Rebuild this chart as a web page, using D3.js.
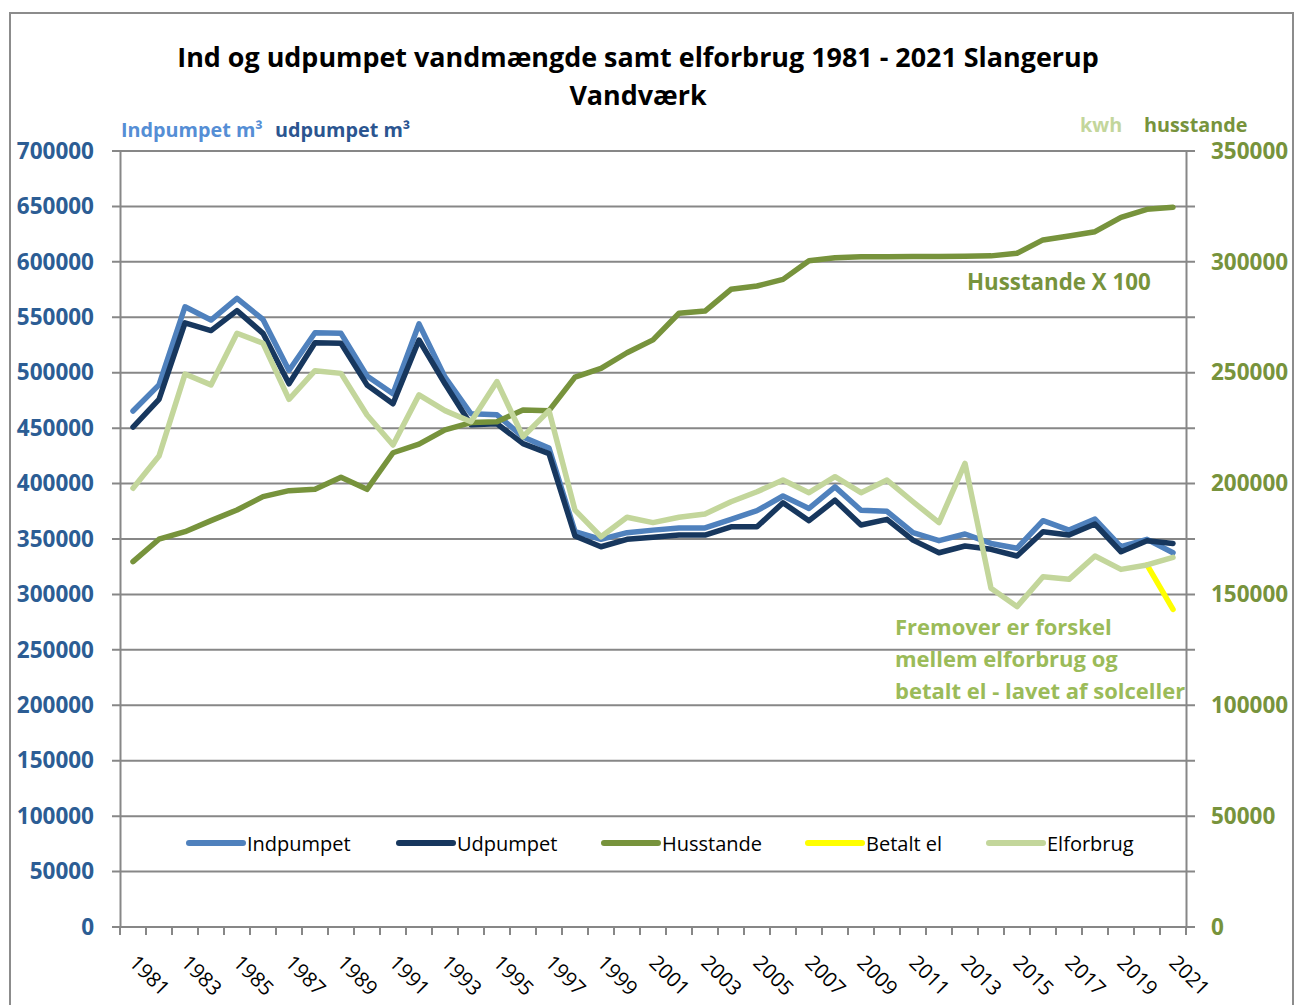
<!DOCTYPE html>
<html>
<head>
<meta charset="utf-8">
<script src="https://cdn.jsdelivr.net/npm/d3@7"></script>
<style>
  html, body { margin: 0; padding: 0; background: #fff; }
  svg { display: block; font-family: "Open Sans", "DejaVu Sans", sans-serif; }
</style>
</head>
<body>
<svg id="chart" width="1297" height="1005"></svg>
<script>
// ---------- data ----------
const years = d3.range(1981, 2022);
const yearLabels = d3.range(1981, 2022, 2);

const indpumpet = [465500, 489000, 559500, 547500, 567000, 548000, 502000, 536000, 535500, 497000,
  481000, 544000, 496000, 463000, 462000, 442000, 432000, 356600, 349700, 355700,
  358000, 360000, 360000, 367700, 375500, 388800, 377600, 397000, 376000, 375000,
  355700, 348500, 354500, 346000, 341600, 366500, 358000, 368000, 343000, 349700, 337600];

const udpumpet = [451000, 476000, 545000, 538000, 556000, 535500, 490000, 527000, 526500, 489000,
  472000, 529500, 490000, 453000, 454000, 436000, 427000, 352700, 343000, 349700,
  351500, 353600, 353600, 361000, 361000, 382700, 366500, 385000, 362600, 367700,
  349000, 337600, 343700, 340700, 334700, 356600, 353600, 363500, 338500, 348500, 346000];

const husstande = [164800, 174900, 178300, 183300, 188100, 194100, 196800, 197400, 202800, 197400,
  213900, 217800, 224200, 227500, 227900, 233200, 232900, 248000, 252000, 259000,
  264800, 276800, 277800, 287600, 289100, 292100, 300500, 301900, 302300, 302300,
  302400, 302400, 302500, 302700, 303900, 309900, 311700, 313600, 320100, 323700, 324600];

const elforbrug = [197900, 212400, 249400, 244500, 267800, 263300, 238000, 250900, 249700, 230900,
  217400, 240000, 232900, 227900, 246000, 221100, 232900, 188000, 176000, 184800,
  182400, 184800, 186300, 191800, 196300, 201600, 195900, 203100, 195900, 201600,
  191800, 182400, 209100, 152800, 144500, 158000, 156800, 167300, 161300, 163300, 166700];

const betaltElYears = [2020, 2021];
const betaltEl = [163300, 143300];

const leftTicks = d3.range(0, 700001, 50000);
const rightTicks = d3.range(0, 350001, 50000);

const seriesNames = ["Indpumpet", "Udpumpet", "Husstande", "Betalt el", "Elforbrug"];
const seriesColors = ["#4F81BD", "#17375E", "#77933C", "#FFFF00", "#C3D69B"];

const titleLines = ["Ind og udpumpet vandmængde samt elforbrug 1981 - 2021 Slangerup", "Vandværk"];
const noteLines = ["Fremover er forskel", "mellem elforbrug og", "betalt el - lavet af solceller"];

// ---------- layout ----------
const svg = d3.select("#chart");
const pLeft = 120, pRight = 1186, pTop = 151, pBottom = 927;
const gridColor = "#878787";

svg.append("rect").attr("x", 10).attr("y", 13).attr("width", 1283).attr("height", 1010)
  .attr("fill", "none").attr("stroke", "#8c8c8c").attr("stroke-width", 2);

const x = d3.scaleBand().domain(years).range([pLeft, pRight]).padding(0);
const xc = d => x(d) + x.bandwidth() / 2;
const yL = d3.scaleLinear().domain([0, 700000]).range([pBottom, pTop]);
const yR = d3.scaleLinear().domain([0, 350000]).range([pBottom, pTop]);

// gridlines
svg.append("g").selectAll("line").data(leftTicks).join("line")
  .attr("x1", pLeft - 8).attr("x2", pRight + 9)
  .attr("y1", d => yL(d)).attr("y2", d => yL(d))
  .attr("stroke", gridColor).attr("stroke-width", 2);

// left axis
const gL = svg.append("g").attr("transform", `translate(${pLeft},0)`)
  .call(d3.axisLeft(yL).tickValues(leftTicks).tickSize(0).tickPadding(26).tickFormat(d3.format("d")));
gL.select(".domain").attr("stroke", gridColor).attr("stroke-width", 2);
gL.selectAll("text").attr("font-size", 22.5).attr("font-weight", "bold").attr("fill", "#2C5D94")
  .attr("font-family", "Open Sans");

// right axis
const gR = svg.append("g").attr("transform", `translate(${pRight},0)`)
  .call(d3.axisRight(yR).tickValues(rightTicks).tickSize(0).tickPadding(25).tickFormat(d3.format("d")));
gR.select(".domain").attr("stroke", gridColor).attr("stroke-width", 2);
gR.selectAll("text").attr("font-size", 22.5).attr("font-weight", "bold").attr("fill", "#77933C")
  .attr("font-family", "Open Sans");

// bottom ticks at category boundaries
const boundaries = years.map(d => x(d)).concat([pRight]);
svg.append("g").selectAll("line").data(boundaries).join("line")
  .attr("x1", d => d).attr("x2", d => d).attr("y1", pBottom).attr("y2", pBottom + 8)
  .attr("stroke", gridColor).attr("stroke-width", 2);

// year labels
svg.append("g").selectAll("text").data(yearLabels).join("text")
  .attr("transform", d => `translate(${xc(d) - 5},964) rotate(45)`)
  .attr("font-size", 20.5).attr("fill", "#000").text(d => d);

// ---------- lines ----------
const lineL = d3.line().x((d, i) => xc(years[i])).y(d => yL(d));
const lineR = d3.line().x((d, i) => xc(years[i])).y(d => yR(d));
const plotLine = (data, gen, color) => svg.append("path").datum(data).attr("d", gen)
  .attr("fill", "none").attr("stroke", color).attr("stroke-width", 5.5)
  .attr("stroke-linejoin", "round").attr("stroke-linecap", "round");

plotLine(indpumpet, lineL, seriesColors[0]);
plotLine(udpumpet, lineL, seriesColors[1]);
plotLine(husstande, lineR, seriesColors[2]);
svg.append("path").datum(betaltEl)
  .attr("d", d3.line().x((d, i) => xc(betaltElYears[i])).y(d => yR(d)))
  .attr("fill", "none").attr("stroke", seriesColors[3]).attr("stroke-width", 5.5)
  .attr("stroke-linecap", "round");
plotLine(elforbrug, lineR, seriesColors[4]);

// ---------- title ----------
svg.append("g").selectAll("text").data(titleLines).join("text")
  .attr("x", 638).attr("y", (d, i) => 67 + i * 38)
  .attr("text-anchor", "middle").attr("font-size", 26.9).attr("font-weight", "bold")
  .attr("fill", "#000").text(d => d);

// axis headers
svg.append("text").attr("x", 121).attr("y", 137).attr("font-size", 19.8).attr("font-weight", "bold")
  .attr("fill", "#558ED5").text("Indpumpet m³");
svg.append("text").attr("x", 275).attr("y", 137).attr("font-size", 19.8).attr("font-weight", "bold")
  .attr("fill", "#2B5590").text("udpumpet m³");
svg.append("text").attr("x", 1080).attr("y", 132).attr("font-size", 19.8).attr("font-weight", "bold")
  .attr("fill", "#C3D69B").text("kwh");
svg.append("text").attr("x", 1144).attr("y", 132).attr("font-size", 19.8).attr("font-weight", "bold")
  .attr("fill", "#77933C").text("husstande");

// annotations
svg.append("text").attr("x", 967).attr("y", 290).attr("font-size", 22.3).attr("font-weight", "bold")
  .attr("fill", "#77933C").text("Husstande X 100");
svg.append("g").selectAll("text").data(noteLines).join("text")
  .attr("x", 895).attr("y", (d, i) => 635 + i * 32)
  .attr("font-size", 22).attr("font-weight", "bold").attr("fill", "#9BBB59").text(d => d);

// ---------- legend ----------
const legendX = [189, 399, 604, 808, 989];
const lg = svg.append("g").selectAll("g").data(seriesNames).join("g")
  .attr("transform", (d, i) => `translate(${legendX[i]},843)`);
lg.append("line").attr("x1", 0).attr("x2", 54).attr("y1", 0).attr("y2", 0)
  .attr("stroke", (d, i) => seriesColors[i]).attr("stroke-width", 6).attr("stroke-linecap", "round");
lg.append("text").attr("x", 58).attr("y", 7.5).attr("font-size", 20).attr("fill", "#000").text(d => d);
</script>
</body>
</html>
